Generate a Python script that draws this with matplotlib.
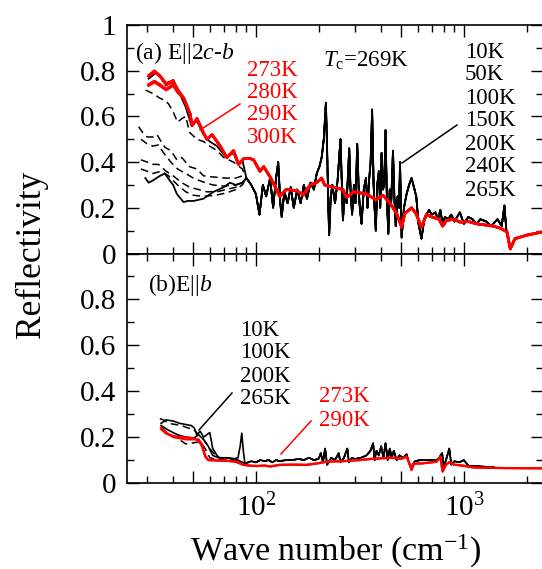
import numpy as np
import matplotlib
matplotlib.use("Agg")
import matplotlib.pyplot as plt
from matplotlib.ticker import FixedLocator, FixedFormatter, FuncFormatter
from matplotlib.lines import Line2D

plt.rcParams['font.family'] = ['Liberation Serif', 'DejaVu Serif']
plt.rcParams['mathtext.fontset'] = 'custom'
plt.rcParams['mathtext.rm'] = 'Liberation Serif'
plt.rcParams['mathtext.it'] = 'Liberation Serif:italic'

# ---------------- panel (a) E || 2c-b ----------------
# temperature-dependent low-frequency parts (black)
wa_10K = [29.4, 30.5, 32, 34.6, 36.5, 38.5, 40, 41.7, 44.9, 47, 50.2, 56, 62.6, 70, 75, 80, 86]
Ra_10K = [0.33, 0.31, 0.32, 0.34, 0.35, 0.32, 0.30, 0.26, 0.225, 0.23, 0.23, 0.24, 0.27, 0.29, 0.31, 0.30, 0.31]
wa_50K = [28, 30, 32, 35, 38, 42, 46, 50, 56, 64, 72, 80, 86]
Ra_50K = [0.37, 0.36, 0.35, 0.36, 0.34, 0.30, 0.27, 0.255, 0.25, 0.255, 0.265, 0.28, 0.30]
wa_100K = [28, 30, 32, 34, 37, 40, 44, 48, 53, 58, 65, 72, 80, 86]
Ra_100K = [0.41, 0.40, 0.39, 0.39, 0.36, 0.34, 0.31, 0.29, 0.28, 0.27, 0.27, 0.28, 0.29, 0.31]
wa_150K = [28, 30, 32, 34, 36, 39, 42, 46, 50, 55, 62, 70, 80, 86]
Ra_150K = [0.50, 0.48, 0.47, 0.475, 0.44, 0.40, 0.37, 0.35, 0.33, 0.315, 0.30, 0.295, 0.30, 0.31]
wa_200K = [27.3, 28.5, 30, 32, 33.5, 35, 36.5, 39, 41.7, 44, 48, 52, 56, 62, 72, 80, 86]
Ra_200K = [0.555, 0.53, 0.51, 0.51, 0.52, 0.49, 0.465, 0.45, 0.41, 0.42, 0.38, 0.37, 0.34, 0.335, 0.33, 0.33, 0.34]
wa_240K = [29.5, 32, 34.5, 36.5, 38, 40, 42, 44, 46, 48, 52, 56, 60, 65, 70, 78, 86]
Ra_240K = [0.715, 0.70, 0.68, 0.67, 0.655, 0.62, 0.575, 0.59, 0.60, 0.53, 0.50, 0.49, 0.47, 0.45, 0.42, 0.40, 0.37]
wa_265K = [30.5, 33, 35, 37, 40, 43, 46, 49, 52, 56, 60, 65, 72, 78, 82, 86]
Ra_265K = [0.765, 0.79, 0.77, 0.735, 0.76, 0.70, 0.64, 0.56, 0.58, 0.52, 0.49, 0.47, 0.42, 0.44, 0.39, 0.41]

# high-frequency part, where all black spectra overlap
wa_black_hf = [90, 95, 100, 104, 108, 112, 117, 121, 125, 128, 131, 133, 137, 142, 147, 152, 158,
               164, 170, 176, 183, 190, 196, 202, 207, 212, 217, 220, 223, 225, 229, 233, 240, 247,
               255, 259, 262, 267, 273, 281, 285, 290, 296, 301, 307, 312, 316, 322, 330, 338, 344,
               350, 356, 362, 368, 372, 377, 383, 390, 396, 402, 408, 414, 420, 426, 433, 440, 447,
               456, 463, 470, 480, 488, 493, 498, 502, 515, 530, 545, 560, 575, 590, 605, 625, 645,
               660, 680, 700, 730, 750, 770, 790, 810, 840, 870, 900, 956, 1000, 1050, 1100, 1150,
               1200, 1280, 1350, 1450, 1520, 1565, 1600, 1640]
Ra_black_hf = [0.33, 0.30, 0.26, 0.17, 0.30, 0.25, 0.33, 0.20, 0.33, 0.40, 0.22, 0.16, 0.27, 0.22,
               0.29, 0.20, 0.28, 0.22, 0.30, 0.24, 0.31, 0.28, 0.35, 0.38, 0.42, 0.50, 0.66, 0.45,
               0.20, 0.08, 0.25, 0.30, 0.22, 0.32, 0.50, 0.30, 0.145, 0.26, 0.22, 0.46, 0.28, 0.17,
               0.30, 0.22, 0.48, 0.28, 0.20, 0.13, 0.28, 0.33, 0.20, 0.32, 0.40, 0.63, 0.30, 0.20,
               0.10, 0.30, 0.36, 0.20, 0.44, 0.28, 0.30, 0.54, 0.25, 0.086, 0.28, 0.22, 0.45, 0.25,
               0.12, 0.25, 0.20, 0.40, 0.20, 0.07, 0.20, 0.26, 0.30, 0.33, 0.29, 0.25, 0.13, 0.065,
               0.15, 0.17, 0.19, 0.17, 0.18, 0.15, 0.19, 0.13, 0.16, 0.15, 0.17, 0.14, 0.18, 0.13,
               0.16, 0.15, 0.13, 0.15, 0.14, 0.12, 0.15, 0.12, 0.21, 0.10, 0.06]

# red (above Tc)
wa_red_lo = [30.5, 32.5, 34.5, 37, 40, 42]
Ra_273K = [0.78, 0.80, 0.78, 0.745, 0.757, 0.72]
Ra_280K = [0.775, 0.795, 0.775, 0.74, 0.75, 0.715]
Ra_290K = [0.74, 0.755, 0.74, 0.72, 0.74, 0.71]
Ra_300K = [0.735, 0.75, 0.735, 0.715, 0.735, 0.705]
wa_red_hf = [45, 48.3, 49.3, 52.1, 56.1, 58.2, 61.5, 67.4, 72.5, 78.1, 82.5, 87.3, 94, 97.5, 104.5,
             109, 117, 124, 130, 140, 157, 169, 182, 196, 207, 214, 235, 262, 273, 296, 341, 377,
             408, 441, 475, 502, 520, 560, 588, 625, 660, 700, 760, 790, 826, 900, 956, 1050, 1150,
             1385, 1500, 1610, 1670, 1760, 2000, 2400]
Ra_red_hf = [0.68, 0.61, 0.56, 0.59, 0.525, 0.50, 0.52, 0.47, 0.42, 0.45, 0.39, 0.415, 0.415, 0.41,
             0.36, 0.38, 0.335, 0.29, 0.25, 0.28, 0.275, 0.255, 0.30, 0.31, 0.33, 0.30, 0.29, 0.28,
             0.245, 0.27, 0.26, 0.235, 0.255, 0.22, 0.175, 0.115, 0.175, 0.20, 0.175, 0.115, 0.17,
             0.16, 0.15, 0.12, 0.145, 0.15, 0.137, 0.14, 0.13, 0.12, 0.11, 0.095, 0.02, 0.065, 0.08,
             0.095]

# ---------------- panel (b) E || b ----------------
wb_10K = [35, 37, 40, 43, 46, 49, 50.5, 52, 54, 56, 58, 60, 62, 65, 67, 72, 78, 82, 84, 85.5, 87]
Rb_10K = [0.26, 0.275, 0.27, 0.26, 0.255, 0.25, 0.24, 0.21, 0.225, 0.20, 0.21, 0.22, 0.15, 0.12,
          0.108, 0.11, 0.105, 0.11, 0.16, 0.217, 0.14]
wb_100K = [34.5, 36, 38, 41, 44, 47, 50, 53, 56, 60, 64, 70, 80, 86]
Rb_100K = [0.28, 0.275, 0.26, 0.255, 0.25, 0.24, 0.235, 0.21, 0.19, 0.15, 0.12, 0.10, 0.10, 0.09]
wb_200K = [35, 38, 42, 46, 50, 54, 57, 60, 66, 75, 86]
Rb_200K = [0.245, 0.21, 0.195, 0.17, 0.175, 0.18, 0.15, 0.11, 0.10, 0.10, 0.088]
wb_265K = [35, 38, 42, 46, 50, 53, 56, 59, 62, 66, 72, 80, 86]
Rb_265K = [0.25, 0.23, 0.21, 0.20, 0.195, 0.21, 0.19, 0.16, 0.12, 0.11, 0.11, 0.105, 0.09]
wb_black_hf = [88.5, 92, 95, 100, 105, 110, 115, 120, 125, 130, 140, 150, 160, 170, 180, 190, 200,
               205, 210, 215, 220, 230, 240, 250, 255, 265, 275, 280, 290, 300, 320, 340, 355, 366,
               372, 380, 390, 400, 410, 420, 430, 440, 450, 460, 475, 490, 510, 530, 545, 560, 580,
               620, 680, 740, 760, 786, 800, 820, 850, 870, 900, 950, 1000, 1050, 1100, 1200, 1300,
               1400]
Rb_black_hf = [0.086, 0.09, 0.095, 0.09, 0.10, 0.095, 0.10, 0.09, 0.10, 0.095, 0.10, 0.10, 0.105,
               0.10, 0.11, 0.10, 0.105, 0.13, 0.09, 0.15, 0.08, 0.11, 0.10, 0.13, 0.09, 0.11, 0.15,
               0.09, 0.11, 0.105, 0.11, 0.12, 0.14, 0.173, 0.10, 0.14, 0.12, 0.16, 0.11, 0.173, 0.10,
               0.15, 0.11, 0.14, 0.10, 0.12, 0.11, 0.125, 0.085, 0.07, 0.095, 0.10, 0.10, 0.10, 0.11,
               0.13, 0.07, 0.10, 0.15, 0.08, 0.095, 0.09, 0.10, 0.075, 0.075, 0.072, 0.07, 0.068]
wb_red_lo = [35, 37, 40, 43, 46, 50, 53, 55, 57]
Rb_273K = [0.24, 0.22, 0.20, 0.195, 0.19, 0.19, 0.19, 0.17, 0.12]
Rb_290K = [0.235, 0.215, 0.205, 0.20, 0.20, 0.195, 0.185, 0.16, 0.115]
wb_red_hf = [59, 66, 72, 80, 87, 95, 101, 110, 117, 130, 150, 175, 199, 219, 260, 316, 360, 409, 450,
             500, 530, 545, 560, 575, 620, 700, 740, 770, 790, 820, 850, 900, 1000, 1100, 1300, 1600,
             2400]
Rb_red_hf = [0.10, 0.098, 0.097, 0.093, 0.079, 0.075, 0.074, 0.076, 0.072, 0.079, 0.08, 0.079, 0.086,
             0.093, 0.095, 0.10, 0.105, 0.108, 0.11, 0.105, 0.115, 0.09, 0.057, 0.085, 0.085, 0.09,
             0.093, 0.115, 0.05, 0.08, 0.09, 0.08, 0.075, 0.068, 0.066, 0.065, 0.064]

labels_a_black = ['10K', '50K', '100K', '150K', '200K', '240K', '265K']
labels_a_red = ['273K', '280K', '290K', '300K']
labels_b_black = ['10K', '100K', '200K', '265K']
labels_b_red = ['273K', '290K']

# ---------------- figure ----------------
W, H = 542, 569
fig = plt.figure(figsize=(W / 100, H / 100), dpi=100)

def fx(px):
    return px / W

def fy(py):
    return 1 - py / H

axL, axR = 127, 543
ax1 = fig.add_axes([fx(axL), fy(253.5), fx(axR) - fx(axL), (253.5 - 25) / H])
ax2 = fig.add_axes([fx(axL), fy(483), fx(axR) - fx(axL), (483 - 253.5) / H], sharex=ax1)

BLK = 'black'
RED = '#ff0000'
dash = (5, 3)

def seg(w_lo, r_lo, w_hf, r_hf):
    return np.concatenate([w_lo, w_hf]), np.concatenate([r_lo, r_hf])

# panel a
for wl, rl, ls in [(wa_50K, Ra_50K, 'd'), (wa_100K, Ra_100K, 'd'), (wa_150K, Ra_150K, 'd'),
                   (wa_200K, Ra_200K, 'd'), (wa_240K, Ra_240K, 'd'),
                   (wa_10K, Ra_10K, 's'), (wa_265K, Ra_265K, 's')]:
    w, r = seg(wl, rl, wa_black_hf, Ra_black_hf)
    if ls == 'd':
        ax1.plot(w, r, color=BLK, lw=1.1, dashes=dash)
    else:
        ax1.plot(w, r, color=BLK, lw=1.3)
for r_lo in [Ra_273K, Ra_280K, Ra_290K, Ra_300K]:
    w, r = seg(wa_red_lo, r_lo, wa_red_hf, Ra_red_hf)
    ax1.plot(w, r, color=RED, lw=1.9)

# panel b
for wl, rl, ls in [(wb_100K, Rb_100K, 'd'), (wb_200K, Rb_200K, 'd'),
                   (wb_10K, Rb_10K, 's'), (wb_265K, Rb_265K, 's')]:
    w, r = seg(wl, rl, wb_black_hf, Rb_black_hf)
    if ls == 'd':
        ax2.plot(w, r, color=BLK, lw=1.1, dashes=dash)
    else:
        ax2.plot(w, r, color=BLK, lw=1.2)
for r_lo in [Rb_273K, Rb_290K]:
    w, r = seg(wb_red_lo, r_lo, wb_red_hf, Rb_red_hf)
    ax2.plot(w, r, color=RED, lw=1.6)

# axes styling
xmaj = [50, 100, 500, 1000]
xmin = [20, 30, 40, 60, 70, 80, 90, 200, 300, 400, 600, 700, 800, 900, 2000]
for ax in (ax1, ax2):
    ax.set_xscale('log')
    ax.set_xlim(24, 2400)
    ax.set_ylim(0, 1)
    ax.xaxis.set_major_locator(FixedLocator(xmaj))
    ax.xaxis.set_minor_locator(FixedLocator(xmin))
    ax.xaxis.set_minor_formatter(FixedFormatter([''] * len(xmin)))
    ax.yaxis.set_major_locator(FixedLocator([0, 0.2, 0.4, 0.6, 0.8, 1.0]))
    ax.yaxis.set_minor_locator(FixedLocator([0.1, 0.3, 0.5, 0.7, 0.9]))
    ax.tick_params(which='both', direction='in', top=True, right=True, width=1.0,
                   labelsize=21, pad=8)
    ax.tick_params(which='major', length=8.5)
    ax.tick_params(which='minor', length=5)
    for s in ax.spines.values():
        s.set_linewidth(1.2)

ax1.yaxis.set_major_formatter(FuncFormatter(lambda v, p: f'{v:g}'))
ax2.yaxis.set_major_formatter(FuncFormatter(lambda v, p: '' if v > 0.95 else f'{v:g}'))
ax1.tick_params(labelbottom=False)
ax2.xaxis.set_major_formatter(FixedFormatter(['', '$10^2$', '', '$10^3$']))

ax2.set_xlabel('Wave number (cm$^{-1}$)', fontsize=24.5)
ax2.xaxis.set_label_coords((336 - axL) / (axR - axL), (483 - 551) / 229.5)
ax2.xaxis.label.set_va('center')
fig.text(fx(31), fy(254), 'Reflectivity', rotation=90, fontsize=25.5, ha='center', va='center')

# text annotations
fs = 16.5
fig.text(fx(135), fy(53), r'(a) E||2$\mathit{c}$-$\mathit{b}$', fontsize=17, va='center')
fig.text(fx(323), fy(61), r'$\mathit{T}_{\rm c}$=269K', fontsize=fs, va='center')
for i, t in enumerate(labels_a_black):
    fig.text(fx(465), fy(52 + 23 * i), t, fontsize=fs, va='center', color=BLK)
for i, t in enumerate(labels_a_red):
    fig.text(fx(247), fy(70 + 22.5 * i), t, fontsize=fs, va='center', color=RED)
fig.text(fx(148), fy(285), r'(b)E||$\mathit{b}$', fontsize=17, va='center')
for i, t in enumerate(labels_b_black):
    fig.text(fx(240), fy(330 + 23 * i), t, fontsize=fs, va='center', color=BLK)
for i, t in enumerate(labels_b_red):
    fig.text(fx(319), fy(397 + 23 * i), t, fontsize=fs, va='center', color=RED)

for (x1, y1, x2, y2, c) in [(402, 163, 457, 125, BLK), (200, 130, 240, 104, RED),
                            (199, 430, 232, 393, BLK), (281, 454, 311, 421, RED)]:
    fig.add_artist(Line2D([fx(x1), fx(x2)], [fy(y1), fy(y2)], color=c, lw=1.1,
                          transform=fig.transFigure))

fig.savefig('out.png', dpi=100)
